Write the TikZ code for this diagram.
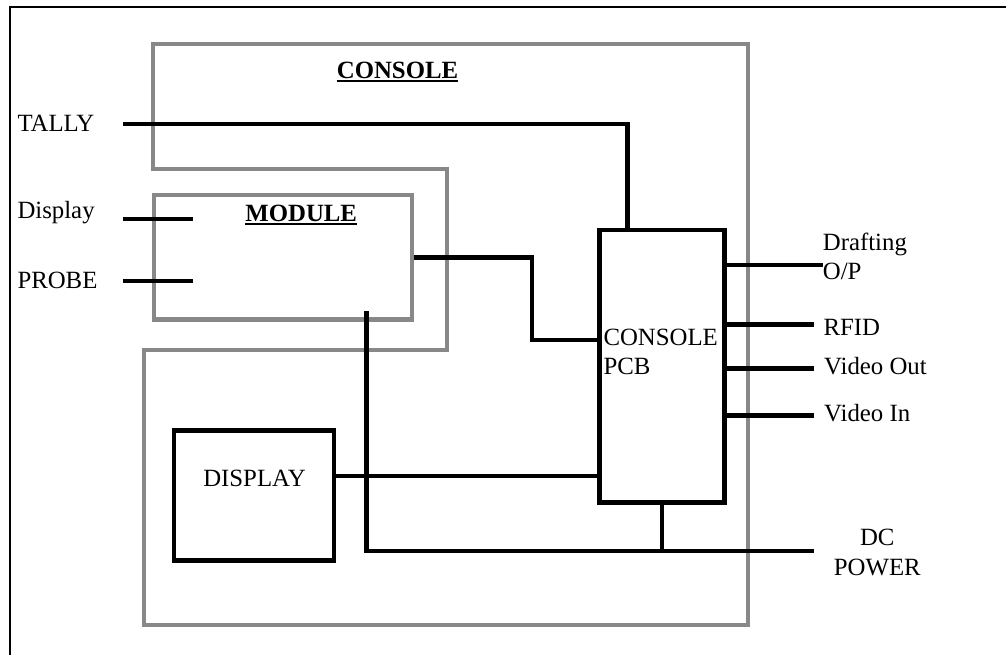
\documentclass[tikz,border=0pt]{standalone}
\usepackage{fontspec}
\setmainfont{Liberation Serif}
\usetikzlibrary{calc}
\definecolor{consolegray}{RGB}{136,136,136}
\tikzset{
  wire/.style={line width=4.5pt, black},
  grayline/.style={line width=4.3pt, draw=consolegray},
  blackbox/.style={draw, line width=4.5pt, inner sep=0pt},
  lbl/.style={inner sep=0pt, font=\fontsize{24.8}{28.8}\selectfont},
  title/.style={lbl, font=\fontsize{24.8}{28.8}\selectfont\bfseries},
}
\begin{document}
\begin{tikzpicture}[x=1pt,y=-1pt]
\useasboundingbox (0,0) rectangle (1006,654);
\clip (0,0) rectangle (1006,654);
% outer frame
\draw[line width=2pt] (10,700) -- (10,7) -- (1060,7);

% console outline
\draw[grayline] (153.3,44) -- (748,44) -- (748,625) -- (144,625) -- (144,350)
  -- (446.7,350) -- (446.7,168.7) -- (153.3,168.7) -- cycle;

% module box
\node[grayline, inner sep=0pt, minimum width=258.3pt, minimum height=124.5pt] (module) at (282.85,257.25) {};

% console pcb and display
\node[blackbox, minimum width=125pt, minimum height=272.5pt] (pcb) at (662.2,366.25) {};
\node[blackbox, minimum width=160pt, minimum height=130pt] (disp) at (254,495.5) {};

% titles
\node[title, anchor=base] (ctitle) at (397.5,78.3) {CONSOLE};
\draw[line width=1.6pt] ($(ctitle.base west)+(0,2.8)$) -- ($(ctitle.base east)+(0,2.8)$);
\node[title, anchor=base] (mtitle) at (301.2,221) {MODULE};
\draw[line width=1.6pt] ($(mtitle.base west)+(0,2.8)$) -- ($(mtitle.base east)+(0,2.8)$);

% texts
\node[lbl, anchor=base west] (tally) at (17.3,131) {TALLY};
\node[lbl, anchor=base west] (displbl) at (17.3,218.3) {Display};
\node[lbl, anchor=base west] (probe) at (17.3,288.3) {PROBE};
\node[lbl, anchor=base west] (pcbt1) at (603.3,345.3) {CONSOLE};
\node[lbl, anchor=base west] (pcbt2) at (603.3,374.3) {PCB};
\node[lbl, anchor=base] (disptext) at (254.5,486) {DISPLAY};
\node[lbl, anchor=base west] (draft1) at (822.7,250.7) {Drafting};
\node[lbl, anchor=base west] (draft2) at (822.7,279) {O/P};
\node[lbl, anchor=base west] (rfid) at (823.3,335) {RFID};
\node[lbl, anchor=base west] (vout) at (824,374) {Video Out};
\node[lbl, anchor=base west] (vin) at (824,421) {Video In};
\node[lbl, anchor=base] (dc) at (877.3,545) {DC};
\node[lbl, anchor=base] (power) at (877.3,575) {POWER};

% connector coordinates
\coordinate (tallyin) at (122.7,124);
\coordinate (tallyx) at (627.7,124);
\coordinate (dispin) at (122.7,219);
\coordinate (dispstub) at (193.3,219);
\coordinate (probein) at (122.7,281);
\coordinate (probestub) at (193.3,281);
\coordinate (mbend) at (532,340);
\coordinate (pwrtop) at (366.7,311);
\coordinate (pwrend) at (814,551);
\coordinate (dline) at (0,476);
\coordinate (draftend) at (822.7,265);
\coordinate (rfidend) at (814,324.7);
\coordinate (voutend) at (814,368.3);
\coordinate (vinend) at (814,415.7);

% connectors
\draw[wire] (tallyin) -- (tallyx) -- (tallyx |- pcb.north);
\draw[wire] (dispin) -- (dispstub);
\draw[wire] (probein) -- (probestub);
\draw[wire] (module.east) -| (mbend) -- (mbend -| pcb.west);
\draw[wire] (pwrtop) |- (pwrend);
\draw[wire] (pcb.south) -- (pcb.south |- pwrend);
\draw[wire] (disp.east |- dline) -- (pcb.west |- dline);
\draw[wire] (pcb.east |- draftend) -- (draftend);
\draw[wire] (pcb.east |- rfidend) -- (rfidend);
\draw[wire] (pcb.east |- voutend) -- (voutend);
\draw[wire] (pcb.east |- vinend) -- (vinend);
\end{tikzpicture}
\end{document}
